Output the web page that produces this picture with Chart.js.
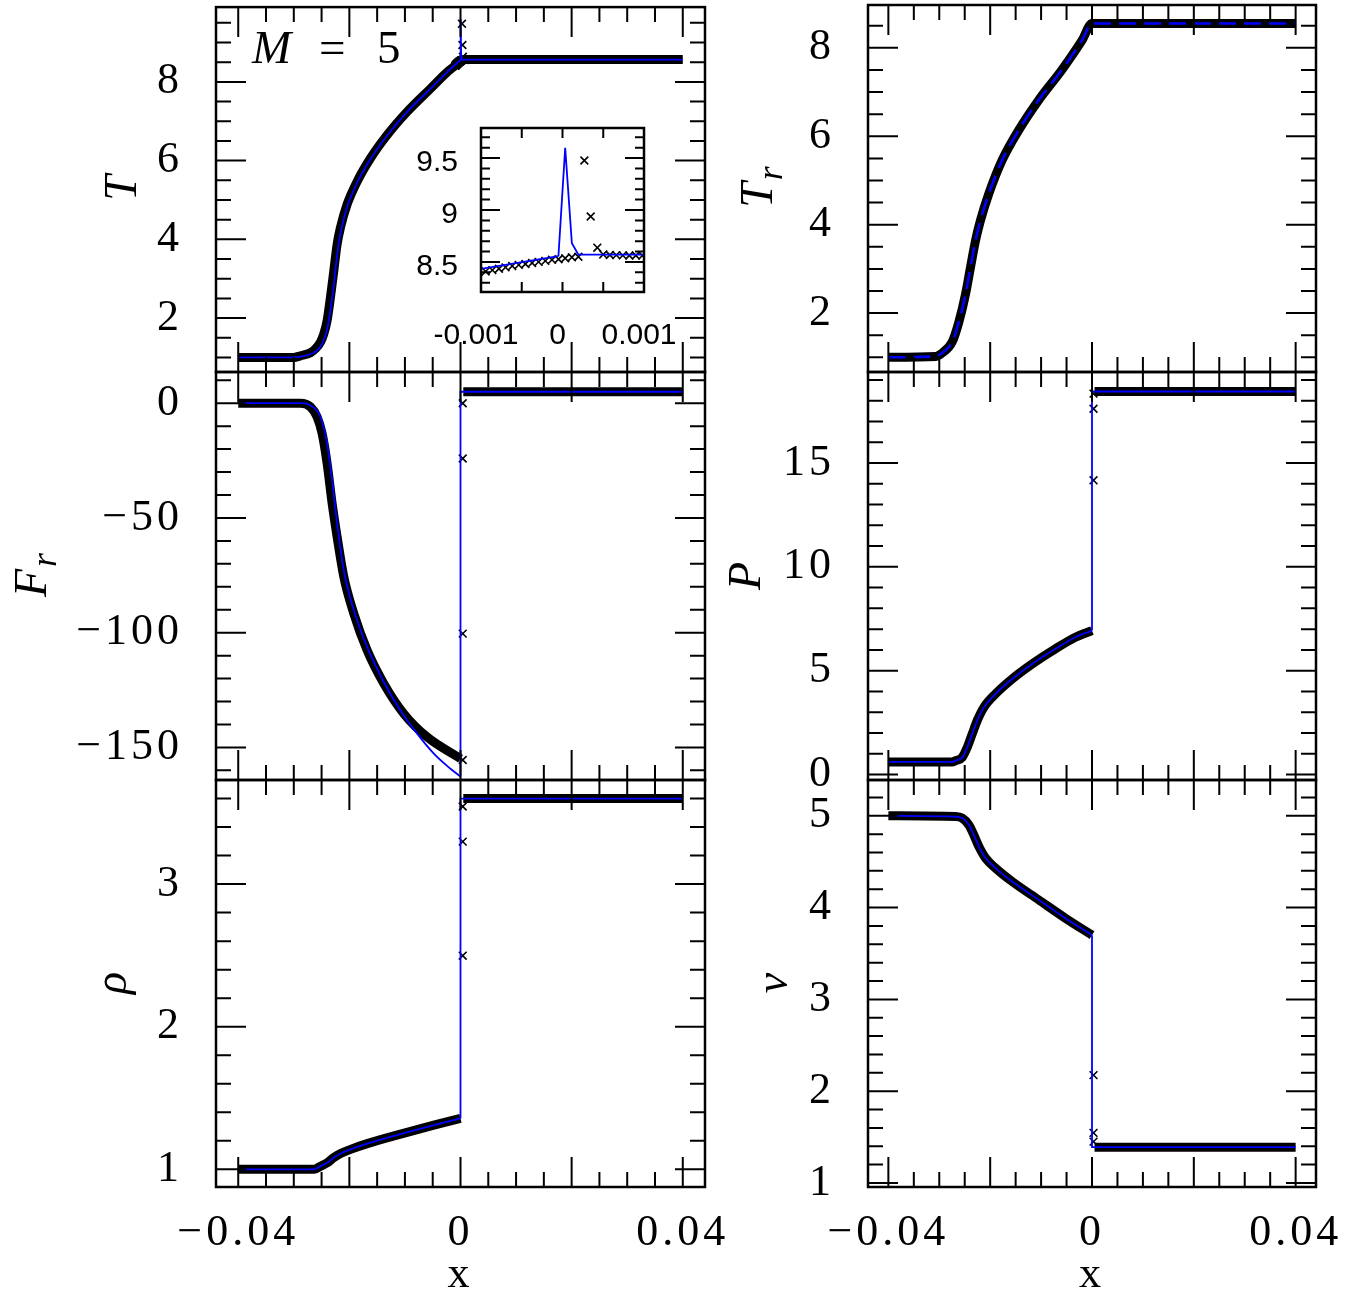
<!DOCTYPE html>
<html>
<head>
<meta charset="utf-8">
<title>Radiative shock profiles, M = 5</title>
<script src="https://cdn.jsdelivr.net/npm/chart.js@4.4.1/dist/chart.umd.min.js"></script>
<style>
  html, body { margin: 0; padding: 0; background: #fff; }
  #fig { position: relative; width: 1363px; height: 1293px; background: #fff; }
  #fig canvas { position: absolute; left: 0; top: 0; }
</style>
</head>
<body>
<div id="fig">
  <canvas id="cT" width="1363" height="1293"></canvas>
  <canvas id="cTr" width="1363" height="1293"></canvas>
  <canvas id="cFr" width="1363" height="1293"></canvas>
  <canvas id="cP" width="1363" height="1293"></canvas>
  <canvas id="cRho" width="1363" height="1293"></canvas>
  <canvas id="cV" width="1363" height="1293"></canvas>
  <canvas id="cInset" width="1363" height="1293"></canvas>
</div>
<script>
// ---------------------------------------------------------------
// Shock profiles for M = 5.
// *Band*  : numerical cells, so dense they merge into a thick band
// *Cell*  : individual cells that stand apart (inside the shock)
// *Ref*   : semi-analytic solution (blue line), smooth upstream part
// *Jump*  : the same solution across the shock and downstream
// ---------------------------------------------------------------

// gas temperature T
const tBandX = [-0.04, -0.030, -0.0288, -0.027, -0.0261, -0.0252, -0.0246, -0.024, -0.0234, -0.0228, -0.0222, -0.0216, -0.0204, -0.0186, -0.0162, -0.0132, -0.0096, -0.0054, -0.0024, -0.001, 0.0002, 0.0005, 0.04];
const tBandY = [1.00, 1.00, 1.04, 1.12, 1.22, 1.39, 1.60, 1.94, 2.53, 3.20, 3.88, 4.30, 4.89, 5.47, 6.06, 6.65, 7.24, 7.83, 8.25, 8.41, 8.55, 8.57, 8.57];
const tCellX = [-0.000943, -0.000861, -0.00078, -0.000699, -0.000617, -0.000537, -0.000455, -0.000373, -0.000293, -0.000211, -0.000129, -0.000049, 0.000033, 0.000115, 0.000195, 0.000268, 0.000346, 0.000427, 0.0005, 0.000581, 0.00066, 0.00074, 0.00082, 0.0009, 0.00098];
const tCellY = [8.408, 8.421, 8.434, 8.447, 8.461, 8.471, 8.48, 8.49, 8.5, 8.51, 8.52, 8.526, 8.535, 8.545, 8.55, 9.477, 8.937, 8.637, 8.572, 8.566, 8.565, 8.563, 8.562, 8.562, 8.561];
const tRefX = [-0.04, -0.030, -0.0288, -0.027, -0.0261, -0.0252, -0.0246, -0.024, -0.0234, -0.0228, -0.0222, -0.0216, -0.0204, -0.0186, -0.0162, -0.0132, -0.0096, -0.0054, -0.0024, -0.00005];
const tRefY = [1.00, 1.00, 1.02, 1.08, 1.15, 1.28, 1.45, 1.72, 2.20, 2.85, 3.60, 4.15, 4.82, 5.44, 6.04, 6.64, 7.24, 7.83, 8.25, 8.555];
const tJumpX = [-0.00005, 0.000033, 0.000115, 0.000195, 0.04];
const tJumpY = [8.555, 9.60, 8.68, 8.57, 8.565];

// radiation temperature T_r (band and reference coincide)
const trX = [-0.04, -0.0307, -0.0294, -0.02745, -0.02615, -0.02484, -0.02386, -0.02288, -0.0219, -0.02027, -0.01765, -0.01439, -0.01047, -0.00588, -0.00196, 0, 0.04];
const trY = [1.00, 1.02, 1.10, 1.35, 1.80, 2.43, 3.04, 3.64, 4.10, 4.70, 5.46, 6.14, 6.82, 7.51, 8.17, 8.55, 8.55];

// radiative flux F_r
const frBandX = [-0.04, -0.0288, -0.027, -0.0258, -0.0249, -0.024, -0.0231, -0.0222, -0.021, -0.0192, -0.0168, -0.0138, -0.0102, -0.006, 0, null, 0.0005, 0.04];
const frBandY = [0, 0, -1.6, -6, -13.2, -26.3, -43.7, -58.3, -75.7, -91.7, -107.7, -122.2, -135.3, -145.5, -154.9, null, 5, 5];
const frCellX = [0.0004, 0.0004, 0.0004, 0.0004];
const frCellY = [0.0, -24.1, -100.4, -155.5];
const frRefX = [-0.04, -0.0288, -0.027, -0.0252, -0.024, -0.0231, -0.0222, -0.021, -0.0192, -0.0168, -0.0138, -0.0108, -0.0078, -0.0048, -0.0018, 0];
const frRefY = [0, 0, -1, -6, -17.6, -33.6, -52.4, -72.8, -90.2, -106.2, -121.5, -133.9, -144, -152.7, -159.3, -162.7];
const frJumpX = [0, 0, 0.04];
const frJumpY = [-162.7, 5, 5];

// pressure P
const pBandX = [-0.04, -0.0275, -0.02681, -0.02549, -0.02451, -0.02353, -0.02255, -0.02124, -0.01895, -0.01569, -0.01176, -0.00719, -0.00327, 0, null, 0.0005, 0.04];
const pBandY = [0.6, 0.6, 0.66, 0.82, 1.30, 1.95, 2.59, 3.23, 3.88, 4.60, 5.32, 6.05, 6.61, 6.93, null, 18.45, 18.45];
const pCellX = [0.0003, 0.0003, 0.0003];
const pCellY = [18.35, 17.62, 14.17];
const pRefX = [-0.04, -0.0275, -0.02681, -0.02549, -0.02451, -0.02353, -0.02255, -0.02124, -0.01895, -0.01569, -0.01176, -0.00719, -0.00327, 0];
const pRefY = [0.6, 0.6, 0.66, 0.82, 1.30, 1.95, 2.59, 3.23, 3.88, 4.60, 5.32, 6.05, 6.61, 6.93];
const pJumpX = [0, 0, 0.04];
const pJumpY = [6.93, 18.45, 18.45];

// density rho
const rhoBandX = [-0.04, -0.02638, -0.02518, -0.02398, -0.02278, -0.02158, -0.01978, -0.01679, -0.01079, -0.0048, 0, null, 0.0005, 0.04];
const rhoBandY = [1.0, 1.0, 1.022, 1.046, 1.083, 1.111, 1.14, 1.18, 1.247, 1.31, 1.357, null, 3.6, 3.6];
const rhoCellX = [0.0004, 0.0004, 0.0004];
const rhoCellY = [3.544, 3.298, 2.498];
const rhoRefX = [-0.04, -0.02638, -0.02518, -0.02398, -0.02278, -0.02158, -0.01978, -0.01679, -0.01079, -0.0048, 0];
const rhoRefY = [1.0, 1.0, 1.022, 1.046, 1.083, 1.111, 1.14, 1.18, 1.247, 1.31, 1.357];
const rhoJumpX = [0, 0, 0.04];
const rhoJumpY = [1.357, 3.6, 3.6];

// velocity v
const vBandX = [-0.04, -0.02681, -0.02549, -0.02418, -0.0232, -0.02222, -0.02092, -0.01895, -0.01569, -0.01046, -0.00523, 0, null, 0.0005, 0.04];
const vBandY = [5.0, 4.992, 4.975, 4.90, 4.79, 4.665, 4.54, 4.43, 4.284, 4.084, 3.884, 3.70, null, 1.39, 1.39];
const vCellX = [0.0003, 0.0003, 0.0003];
const vCellY = [2.175, 1.546, 1.45];
const vRefX = [-0.04, -0.02681, -0.02549, -0.02418, -0.0232, -0.02222, -0.02092, -0.01895, -0.01569, -0.01046, -0.00523, 0];
const vRefY = [5.0, 4.992, 4.975, 4.90, 4.79, 4.665, 4.54, 4.43, 4.284, 4.084, 3.884, 3.70];
const vJumpX = [0, 0, 0.04];
const vJumpY = [3.70, 1.39, 1.39];

// tick labels
const xTicks = [-0.04, 0, 0.04];
const tTicks = [2, 4, 6, 8];
const trTicks = [2, 4, 6, 8];
const frTicks = [0, -50, -100, -150];
const pTicks = [0, 5, 10, 15];
const rhoTicks = [1, 2, 3];
const vTicks = [1, 2, 3, 4, 5];
const insetXTicks = [-0.001, 0, 0.001];
const insetYTicks = [8.5, 9, 9.5];

// ---------------------------------------------------------------
const W = 1363, H = 1293;
const SERIF = '"Liberation Serif", "DejaVu Serif", serif';
const SANS = '"Liberation Sans", Arial, sans-serif';
const BLUE = '#0000ff';

const pts = (xs, ys) => xs.map((x, i) => ({ x: x, y: ys[i] }));
const band = (xs, ys) => ({ data: pts(xs, ys), showLine: true, borderColor: '#000', borderWidth: 9,
  borderJoinStyle: 'round', cubicInterpolationMode: 'monotone', pointRadius: 0, order: 3 });
const cells = (xs, ys, clip) => ({ data: pts(xs, ys), showLine: false, pointStyle: 'crossRot',
  pointRadius: 5.5, pointBorderWidth: 1.6, pointBorderColor: '#000', pointBackgroundColor: 'rgba(0,0,0,0)',
  borderColor: '#000', order: 2, clip: clip });
// smooth part of the reference solution
const ref = (xs, ys, opt) => Object.assign({ data: pts(xs, ys), showLine: true, borderColor: BLUE, borderWidth: 1.8,
  cubicInterpolationMode: 'monotone', pointRadius: 0, order: 1 }, opt || {});
// straight pieces of the reference solution (shock jump, flat downstream)
const jump = (xs, ys, clip) => ({ data: pts(xs, ys), showLine: true, borderColor: BLUE, borderWidth: 1.8,
  tension: 0, pointRadius: 0, order: 1, clip: clip });

const fmtMinus = v => (v < 0 ? '\u2212' + String(-v) : String(v));

function forSteps(min, max, step, fn) {
  const k0 = Math.ceil(min / step - 1e-9), k1 = Math.floor(max / step + 1e-9);
  for (let k = k0; k <= k1; k++) fn(k * step);
}
function onStep(v, step) {
  const r = v / step;
  return Math.abs(r - Math.round(r)) < 1e-6;
}

function drawRotLabel(ctx, t) {
  ctx.save();
  ctx.translate(t.x, t.y);
  ctx.rotate(-Math.PI / 2);
  ctx.textBaseline = 'alphabetic';
  ctx.textAlign = 'left';
  const mainFont = 'italic ' + t.size + 'px ' + SERIF;
  const subFont = 'italic ' + (t.subSize || t.size) + 'px ' + SERIF;
  ctx.font = mainFont;
  const w1 = ctx.measureText(t.main).width;
  let w2 = 0;
  if (t.sub) { ctx.font = subFont; w2 = ctx.measureText(t.sub).width; }
  const start = -(w1 + w2) / 2;
  ctx.font = mainFont;
  ctx.fillText(t.main, start, 0);
  if (t.sub) { ctx.font = subFont; ctx.fillText(t.sub, start + w1 + (t.subGap || 0), t.subDrop || 0); }
  ctx.restore();
}

// frame, inward ticks on all four sides, axis names and notes
const panelDecor = {
  id: 'panelDecor',
  beforeDraw(chart, args, o) {
    const { ctx, chartArea: a } = chart;
    if (o.fill) {
      ctx.save();
      ctx.fillStyle = o.fill;
      ctx.fillRect(a.left, a.top, a.right - a.left, a.bottom - a.top);
      ctx.restore();
    }
    ctx.letterSpacing = o.letterSpacing || '0px';
  },
  afterDatasetsDraw(chart, args, o) {
    const { ctx, chartArea: a } = chart;
    const xs = chart.scales.x, ys = chart.scales.y;
    ctx.save();
    ctx.strokeStyle = '#000';
    ctx.lineCap = 'butt';
    ctx.lineWidth = o.tickWidth;
    ctx.beginPath();
    forSteps(xs.min, xs.max, o.xMinor, v => {
      const p = xs.getPixelForValue(v);
      const len = onStep(v, o.xMajor) ? o.xLong : o.xShort;
      ctx.moveTo(p, a.bottom); ctx.lineTo(p, a.bottom - len);
      ctx.moveTo(p, a.top); ctx.lineTo(p, a.top + len);
    });
    forSteps(ys.min, ys.max, o.yMinor, v => {
      const p = ys.getPixelForValue(v);
      const len = onStep(v, o.yMajor) ? o.yLong : o.yShort;
      ctx.moveTo(a.left, p); ctx.lineTo(a.left + len, p);
      ctx.moveTo(a.right, p); ctx.lineTo(a.right - len, p);
    });
    ctx.stroke();
    ctx.lineWidth = o.frameWidth;
    ctx.strokeRect(a.left, a.top, a.right - a.left, a.bottom - a.top);
    ctx.restore();
  },
  afterDraw(chart, args, o) {
    const ctx = chart.ctx;
    ctx.save();
    ctx.letterSpacing = '0px';
    ctx.fillStyle = '#000';
    if (o.yTitle) drawRotLabel(ctx, o.yTitle);
    (o.notes || []).forEach(n => {
      ctx.font = n.font;
      ctx.textAlign = 'left';
      ctx.textBaseline = 'alphabetic';
      ctx.fillText(n.text, n.x, n.y);
    });
    ctx.restore();
  }
};

const tickFont = { family: SERIF, size: 44 };
const mainDecor = { xMinor: 0.005, xMajor: 0.02, xLong: 30, xShort: 15, yLong: 30, yShort: 15,
  tickWidth: 2, frameWidth: 2.5, letterSpacing: '4px' };

function panel(id, p) {
  return new Chart(document.getElementById(id), {
    type: 'scatter',
    data: { datasets: p.datasets },
    options: {
      responsive: false,
      animation: false,
      events: [],
      layout: { padding: { left: 0, top: p.box[1], right: W - p.box[2], bottom: H - p.box[3] - p.xAxisH } },
      plugins: { legend: { display: false }, tooltip: { enabled: false }, panelDecor: p.decor },
      scales: {
        x: {
          type: 'linear', min: p.xMin, max: p.xMax,
          grid: { display: false }, border: { display: false },
          ticks: { display: p.showX, color: '#000', font: p.xFont || tickFont, padding: p.xPad || 0,
            maxRotation: 0, autoSkip: false, labelOffset: p.xLabelOffset || 0, callback: p.xFmt || fmtMinus },
          title: { display: !!p.xTitle, text: p.xTitle || '', color: '#000',
            font: { family: SERIF, size: 44, lineHeight: 1 }, padding: { top: 0, bottom: -4 } },
          afterBuildTicks: s => { s.ticks = p.xLabels.map(v => ({ value: v })); },
          afterFit: s => { s.height = p.xAxisH; s.paddingLeft = 0; s.paddingRight = 0; }
        },
        y: {
          type: 'linear', min: p.yMin, max: p.yMax,
          grid: { display: false }, border: { display: false },
          ticks: { color: '#000', font: p.yFont || tickFont, padding: p.yPad, autoSkip: false,
            labelOffset: p.yLabelOffset || 0, callback: p.yFmt || fmtMinus },
          afterBuildTicks: s => { s.ticks = p.yLabels.map(v => ({ value: v })); },
          afterFit: s => { s.width = p.box[0]; s.paddingTop = 0; s.paddingBottom = 0; }
        }
      }
    },
    plugins: [panelDecor]
  });
}

// column / row geometry of the 3x2 grid
const LEFT = [216, 705], RIGHT = [868, 1316];
const ROWS = [[5, 372], [372, 780], [780, 1187]];
const XR = [-0.044, 0.044];

panel('cT', {
  box: [LEFT[0], ROWS[0][0], LEFT[1], ROWS[0][1]], xAxisH: 0, showX: false,
  xMin: XR[0], xMax: XR[1], yMin: 0.63, yMax: 9.9, xLabels: xTicks, yLabels: tTicks, yPad: 25,
  datasets: [band(tBandX, tBandY), cells(tCellX, tCellY), ref(tRefX, tRefY), jump(tJumpX, tJumpY)],
  decor: Object.assign({}, mainDecor, { yMinor: 0.5, yMajor: 2,
    yTitle: { main: 'T', x: 136, y: 188, size: 46 },
    notes: [
      { text: 'M', x: 252, y: 63, font: 'italic 47px ' + SERIF },
      { text: '=', x: 319, y: 63, font: '47px ' + SERIF },
      { text: '5', x: 377, y: 63, font: '47px ' + SERIF }
    ] })
});

panel('cTr', {
  box: [RIGHT[0], ROWS[0][0], RIGHT[1], ROWS[0][1]], xAxisH: 0, showX: false,
  xMin: XR[0], xMax: XR[1], yMin: 0.667, yMax: 8.97, xLabels: xTicks, yLabels: trTicks, yPad: 25,
  datasets: [band(trX, trY), ref(trX, trY, { borderDash: [17, 8], borderWidth: 2.6 })],
  decor: Object.assign({}, mainDecor, { yMinor: 0.5, yMajor: 2,
    yTitle: { main: 'T', sub: 'r', x: 772, y: 188, size: 46, subSize: 36, subGap: 2, subDrop: 10 } })
});

panel('cFr', {
  box: [LEFT[0], ROWS[1][0], LEFT[1], ROWS[1][1]], xAxisH: 0, showX: false,
  xMin: XR[0], xMax: XR[1], yMin: -164.2, yMax: 13.6, xLabels: xTicks, yLabels: frTicks, yPad: 25,
  datasets: [band(frBandX, frBandY), cells(frCellX, frCellY), ref(frRefX, frRefY), jump(frJumpX, frJumpY)],
  decor: Object.assign({}, mainDecor, { yMinor: 10, yMajor: 50,
    yTitle: { main: 'F', sub: 'r', x: 46, y: 576, size: 46, subSize: 36, subGap: 2, subDrop: 10 } })
});

panel('cP', {
  box: [RIGHT[0], ROWS[1][0], RIGHT[1], ROWS[1][1]], xAxisH: 0, showX: false,
  xMin: XR[0], xMax: XR[1], yMin: -0.27, yMax: 19.39, xLabels: xTicks, yLabels: pTicks, yPad: 25,
  datasets: [band(pBandX, pBandY), cells(pCellX, pCellY), ref(pRefX, pRefY), jump(pJumpX, pJumpY)],
  decor: Object.assign({}, mainDecor, { yMinor: 1, yMajor: 5,
    yTitle: { main: 'P', x: 760, y: 576, size: 46 } })
});

panel('cRho', {
  box: [LEFT[0], ROWS[2][0], LEFT[1], ROWS[2][1]], xAxisH: 106, showX: true, xPad: 12, xTitle: 'x',
  xMin: XR[0], xMax: XR[1], yMin: 0.876, yMax: 3.73, xLabels: xTicks, yLabels: rhoTicks, yPad: 25,
  datasets: [band(rhoBandX, rhoBandY), cells(rhoCellX, rhoCellY), ref(rhoRefX, rhoRefY), jump(rhoJumpX, rhoJumpY)],
  decor: Object.assign({}, mainDecor, { yMinor: 0.2, yMajor: 1,
    yTitle: { main: '\u03c1', x: 126, y: 983, size: 46 } })
});

panel('cV', {
  box: [RIGHT[0], ROWS[2][0], RIGHT[1], ROWS[2][1]], xAxisH: 106, showX: true, xPad: 12, xTitle: 'x',
  xMin: XR[0], xMax: XR[1], yMin: 0.956, yMax: 5.39, xLabels: xTicks, yLabels: vTicks, yPad: 25,
  datasets: [band(vBandX, vBandY), cells(vCellX, vCellY), ref(vRefX, vRefY), jump(vJumpX, vJumpY)],
  decor: Object.assign({}, mainDecor, { yMinor: 0.2, yMajor: 1,
    yTitle: { main: 'v', x: 787, y: 983, size: 46 } })
});

// zoom on the temperature spike at the shock front
panel('cInset', {
  box: [481, 128, 644, 292], xAxisH: 60, showX: true, xPad: 18, xLabelOffset: -5,
  xFont: { family: SANS, size: 30 }, yFont: { family: SANS, size: 30 }, yLabelOffset: 5,
  xFmt: v => String(v), yFmt: v => String(v),
  xMin: -0.001, xMax: 0.001, yMin: 8.21, yMax: 9.79, xLabels: insetXTicks, yLabels: insetYTicks, yPad: 15,
  datasets: [cells(tCellX, tCellY, 0), ref(tRefX, tRefY, { clip: 0 }), jump(tJumpX, tJumpY, 0)],
  decor: { fill: '#fff', xMinor: 0.0005, xMajor: 0.0005, xLong: 10, xShort: 10,
    yMinor: 0.1, yMajor: 0.5, yLong: 19, yShort: 9, tickWidth: 2, frameWidth: 2.5, letterSpacing: '0px' }
});
</script>
</body>
</html>
